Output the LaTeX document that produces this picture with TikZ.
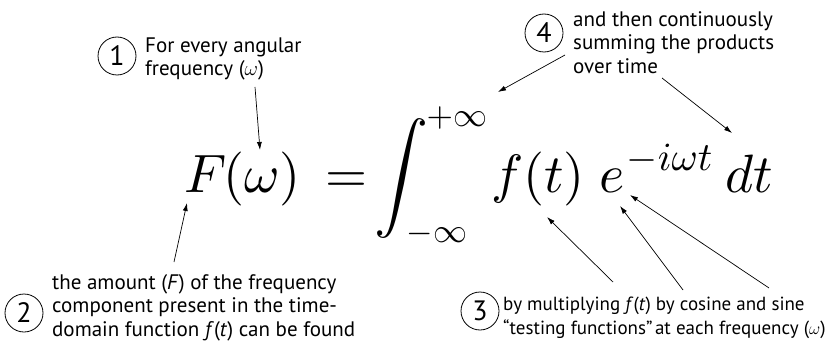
\documentclass[tikz,border=0pt]{standalone}
\usepackage{amsmath}
\usepackage{fontspec}
\setmainfont{PT Sans}
\usetikzlibrary{arrows.meta}
\tikzset{
  lbl/.style={anchor=base west, inner sep=0pt, font=\fontsize{21}{24}\selectfont},
  lbls/.style={anchor=base west, inner sep=0pt, font=\fontsize{19}{24}\selectfont},
  num/.style={circle, draw, line width=0.8pt, minimum size=38pt, inner sep=0pt, font=\fontsize{28}{30}\selectfont},
  eq/.style={anchor=base west, inner sep=0pt, font=\fontsize{10}{12}\selectfont, scale=5.4},
  lim/.style={anchor=base west, inner sep=0pt, font=\fontsize{10}{12}\selectfont, scale=3.4},
  supx/.style={anchor=base west, inner sep=0pt, font=\fontsize{10}{12}\selectfont, scale=4.0},
  ptr/.style={line width=0.7pt, -{Latex[length=8pt,width=5pt]}},
}
\begin{document}
\begin{tikzpicture}[x=1pt,y=-1pt]
\useasboundingbox (0,0) rectangle (832,342);
% equation
\node[eq] (F) at (183,192) {$F$};
\node[eq] (om) at (222,192) {$(\omega)$};
\node[eq] (eqs) at (324,192) {$=$};
\node[eq, anchor=base] (int) at (401,192) {$\displaystyle\int$};
\node[lim] (up) at (426,127) {$+\infty$};
\node[lim] (lo) at (406,242) {$-\infty$};
\node[eq] (ft) at (490,192) {$f(t)$};
\node[eq] (e) at (598,192) {$e$};
\node[supx] (ex) at (626,170) {$-i\omega t$};
\node[eq] (dt) at (724,192) {$dt$};
% numbers
\node[num] (n1) at (117,56) {1};
\node[num] (n2) at (24,313) {2};
\node[num] (n3) at (480,311) {3};
\node[num] (n4) at (544,33) {4};
% texts
\node[lbl] (t1a) at (145,53) {For every angular};
\node[lbl] (t1b) at (145,76) {frequency ($\omega$)};
\node[lbl] (t4a) at (573,27) {and then continuously};
\node[lbl] (t4b) at (573,50) {summing the products};
\node[lbl] (t4c) at (573,74) {over time};
\node[lbl] (t2a) at (52,289) {the amount (\textit{F}) of the frequency};
\node[lbl] (t2b) at (52,312) {component present in the time-};
\node[lbl] (t2c) at (52,336) {domain function \textit{f}(\textit{t}) can be found};
\node[lbls] (t3a) at (503,310) {by multiplying \textit{f}(\textit{t}) by cosine and sine};
\node[lbls] (t3b) at (503,334) {“testing functions”\hspace{2.5pt}at each frequency ($\omega$)};
% arrow endpoints
\coordinate (a1s) at (255,87);  \coordinate (a1e) at (260,150);
\coordinate (a2s) at (174,262); \coordinate (a2e) at (187,203);
\coordinate (a3s) at (613,282); \coordinate (a3e) at (547,217);
\coordinate (a4s) at (683,290); \coordinate (a4e) at (620,206);
\coordinate (a5s) at (769,288); \coordinate (a5e) at (630,195);
\coordinate (a6s) at (565,55);  \coordinate (a6e) at (498,92);
\coordinate (a7s) at (662,78);  \coordinate (a7e) at (732,133);
\draw[ptr] (a1s) -- (a1e);
\draw[ptr] (a2s) -- (a2e);
\draw[ptr] (a3s) -- (a3e);
\draw[ptr] (a4s) -- (a4e);
\draw[ptr] (a5s) -- (a5e);
\draw[ptr] (a6s) -- (a6e);
\draw[ptr] (a7s) -- (a7e);
\end{tikzpicture}
\end{document}
